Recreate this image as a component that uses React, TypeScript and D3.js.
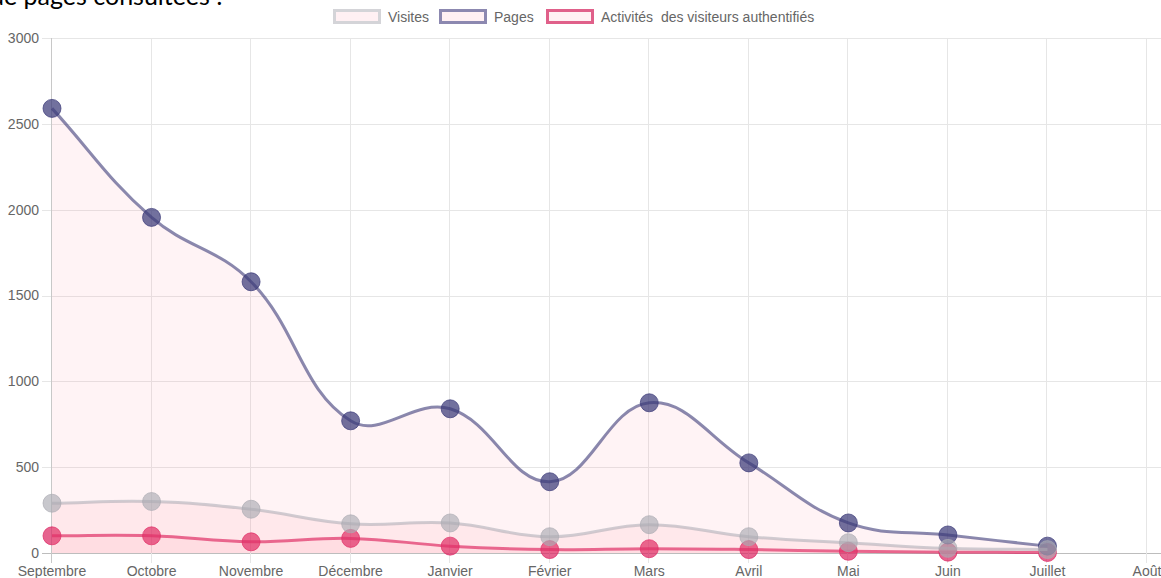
import * as d3 from 'd3';

const months = ['Septembre', 'Octobre', 'Novembre', 'Décembre', 'Janvier', 'Février', 'Mars', 'Avril', 'Mai', 'Juin', 'Juillet', 'Août'];
const visites: (number | null)[] = [290, 300, 255, 170, 175, 95, 165, 95, 60, 27, 20, null];
const pages: (number | null)[] = [2590, 1955, 1580, 770, 840, 415, 875, 525, 175, 105, 40, null];
const activites: (number | null)[] = [100, 100, 65, 85, 40, 20, 25, 20, 10, 5, 3, null];
const yTicks = [0, 500, 1000, 1500, 2000, 2500, 3000];

const W = 1161;
const H = 578;
const left = 52;
const right = 1147;
const top = 38;
const bottom = 553;

const x = d3.scalePoint<string>().domain(months).range([left, right]);
const y = d3.scaleLinear().domain([0, 3000]).range([bottom, top]);

const fillPink = 'rgba(255, 99, 132, 0.08)';
const font = '"Liberation Sans", Arial, sans-serif';

type Pt = { x: number; y: number };

// chart.js style spline (tension 0.4), control points capped to the chart area
function spline(pts: Pt[], t = 0.4): string {
  const n = pts.length;
  const cps = pts.map((cur, i) => {
    const prev = pts[Math.max(i - 1, 0)];
    const next = pts[Math.min(i + 1, n - 1)];
    const d01 = Math.hypot(cur.x - prev.x, cur.y - prev.y);
    const d12 = Math.hypot(next.x - cur.x, next.y - cur.y);
    let s01 = d01 / (d01 + d12);
    let s12 = d12 / (d01 + d12);
    if (isNaN(s01)) s01 = 0;
    if (isNaN(s12)) s12 = 0;
    const fa = t * s01;
    const fb = t * s12;
    const cap = (p: Pt) => ({
      x: Math.min(Math.max(p.x, left), right),
      y: Math.min(Math.max(p.y, top), bottom),
    });
    return {
      prev: cap({ x: cur.x - fa * (next.x - prev.x), y: cur.y - fa * (next.y - prev.y) }),
      next: cap({ x: cur.x + fb * (next.x - prev.x), y: cur.y + fb * (next.y - prev.y) }),
    };
  });
  let d = `M${pts[0].x},${pts[0].y}`;
  for (let i = 1; i < n; i++) {
    const a = cps[i - 1].next;
    const b = cps[i].prev;
    d += `C${a.x},${a.y},${b.x},${b.y},${pts[i].x},${pts[i].y}`;
  }
  return d;
}

const series = [
  { name: 'Visites', values: visites, line: 'rgba(170, 170, 178, 0.55)', point: 'rgba(170, 170, 178, 0.65)', legend: '#d4d4d8' },
  { name: 'Pages', values: pages, line: 'rgba(60, 58, 120, 0.6)', point: 'rgba(60, 58, 120, 0.72)', legend: '#8c88b0' },
  { name: 'Activités  des visiteurs authentifiés', values: activites, line: 'rgba(220, 40, 100, 0.7)', point: 'rgba(220, 40, 100, 0.72)', legend: '#e0608a' },
];

const legendX = [333, 439, 546];

function Series({ s }: { s: (typeof series)[number] }) {
  const pts: Pt[] = [];
  s.values.forEach((v, i) => {
    if (v !== null) pts.push({ x: x(months[i]) as number, y: y(v) });
  });
  const line = spline(pts);
  const area = `${line}L${pts[pts.length - 1].x},${y(0)}L${pts[0].x},${y(0)}Z`;
  return (
    <g>
      <path d={area} fill={fillPink} />
      <path d={line} fill="none" stroke={s.line} strokeWidth={3} />
      {pts.map((p, i) => (
        <circle key={i} cx={p.x} cy={p.y} r={9} fill={s.point} stroke={s.point} strokeWidth={1} />
      ))}
    </g>
  );
}

export default function App() {
  return (
    <div style={{ position: 'fixed', left: 0, top: 0, width: W, height: H, background: '#fff' }}>
      <svg width={W} height={H} style={{ display: 'block' }}>
        <text x={-10} y={5} fontFamily="Lato, 'Open Sans', sans-serif" fontSize={25} fill="#000">
          de pages consultées :
        </text>

        {/* grid */}
        {yTicks.map((t) => (
          <line key={'h' + t} x1={left - 10} x2={W} y1={Math.round(y(t)) + 0.5} y2={Math.round(y(t)) + 0.5}
            stroke={t === 0 ? '#bdbdbd' : '#e6e6e6'} strokeWidth={1} />
        ))}
        {months.map((m, i) => (
          <line key={'v' + m} x1={Math.round(x(m) as number) - 0.5} x2={Math.round(x(m) as number) - 0.5} y1={top} y2={bottom + 10}
            stroke={i === 0 ? '#c8c8c8' : '#e6e6e6'} strokeWidth={1} />
        ))}

        {/* y labels */}
        {yTicks.map((t) => (
          <text key={'yl' + t} x={39} y={y(t)} dy="0.35em" textAnchor="end" fontFamily={font} fontSize={14} fill="#666">
            {t}
          </text>
        ))}
        {/* x labels */}
        {months.map((m) => (
          <text key={'xl' + m} x={x(m) as number} y={576} textAnchor="middle" fontFamily={font} fontSize={14} fill="#666">
            {m}
          </text>
        ))}

        {/* datasets: chart.js draws the last one first */}
        {[...series].reverse().map((s) => (
          <Series key={s.name} s={s} />
        ))}

        {/* legend */}
        {series.map((s, i) => (
          <g key={'lg' + s.name}>
            <rect x={legendX[i] + 1.5} y={10.5} width={45} height={12} fill="#fff0f3" stroke={s.legend} strokeWidth={3} />
            <text x={legendX[i] + 55} y={17} dy="0.35em" fontFamily={font} fontSize={14} fill="#666" style={{ whiteSpace: 'pre' }}>
              {s.name}
            </text>
          </g>
        ))}
      </svg>
    </div>
  );
}
